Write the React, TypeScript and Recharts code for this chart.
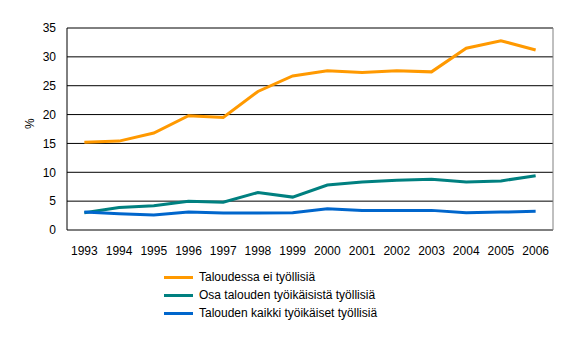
import React from 'react';
import { LineChart, Line, XAxis, YAxis, CartesianGrid, ReferenceLine } from 'recharts';

const years = [1993, 1994, 1995, 1996, 1997, 1998, 1999, 2000, 2001, 2002, 2003, 2004, 2005, 2006];
const noWork = [15.2, 15.4, 16.8, 19.8, 19.5, 24.0, 26.7, 27.6, 27.3, 27.6, 27.4, 31.5, 32.8, 31.2];
const partWork = [3.0, 3.9, 4.2, 5.0, 4.8, 6.5, 5.7, 7.8, 8.3, 8.6, 8.8, 8.3, 8.5, 9.4];
const allWork = [3.1, 2.8, 2.6, 3.1, 2.95, 2.95, 3.0, 3.7, 3.4, 3.4, 3.4, 3.0, 3.1, 3.25];
const yTicks = [0, 5, 10, 15, 20, 25, 30, 35];
const boundaryTicks = [1992.5, 1993.5, 1994.5, 1995.5, 1996.5, 1997.5, 1998.5, 1999.5, 2000.5, 2001.5, 2002.5, 2003.5, 2004.5, 2005.5, 2006.5];
const seriesNames = ['Taloudessa ei työllisiä', 'Osa talouden työikäisistä työllisiä', 'Talouden kaikki työikäiset työllisiä'];
const colors = ['#FF9900', '#008080', '#0066CC'];

const data = years.map((y, i) => ({ year: y, a: noWork[i], b: partWork[i], c: allWork[i] }));

const FONT = '"Liberation Sans", Arial, sans-serif';

export default function App() {
  return (
    <div style={{ position: 'fixed', left: 0, top: 0, width: 569, height: 351, background: '#fff' }}>
      <LineChart width={569} height={351} data={data} margin={{ top: 28, right: 16, left: 0, bottom: 91 }}>
        <CartesianGrid horizontal vertical={false} stroke="#000" strokeOpacity={1} />
        <XAxis
          xAxisId={0}
          dataKey="year"
          type="number"
          domain={[1992.5, 2006.5]}
          ticks={boundaryTicks}
          tickFormatter={() => ''}
          height={0}
          tickSize={5}
          stroke="#000"
          interval={0}
          allowDataOverflow
        />
        <XAxis
          xAxisId={1}
          dataKey="year"
          type="number"
          domain={[1992.5, 2006.5]}
          ticks={years}
          height={30}
          axisLine={false}
          tickLine={false}
          tickMargin={10}
          interval={0}
          tick={{ fill: '#000', fontSize: 12, fontFamily: FONT }}
        />
        <YAxis
          domain={[0, 35]}
          ticks={yTicks}
          width={67}
          tickSize={4}
          tickMargin={7}
          tickLine={false}
          stroke="#000"
          interval={0}
          tick={{ fill: '#000', fontSize: 12, fontFamily: FONT }}
          label={{ value: '%', angle: -90, position: 'insideLeft', offset: 30, style: { fill: '#000', fontSize: 12, fontFamily: FONT } }}
        />
        <ReferenceLine y={35} stroke="#808080" />
        <ReferenceLine x={2006.5} stroke="#808080" />
        <Line type="linear" dataKey="a" stroke={colors[0]} strokeWidth={3} dot={false} isAnimationActive={false} />
        <Line type="linear" dataKey="b" stroke={colors[1]} strokeWidth={3} dot={false} isAnimationActive={false} />
        <Line type="linear" dataKey="c" stroke={colors[2]} strokeWidth={3} dot={false} isAnimationActive={false} />
      </LineChart>
      <div style={{ position: 'absolute', left: 164, top: 268, fontFamily: FONT, fontSize: 12, color: '#000' }}>
        {seriesNames.map((n, i) => (
          <div key={n} style={{ display: 'flex', alignItems: 'center', height: 18 }}>
            <div style={{ width: 29, height: 3, background: colors[i], marginRight: 6 }} />
            <span>{n}</span>
          </div>
        ))}
      </div>
    </div>
  );
}
